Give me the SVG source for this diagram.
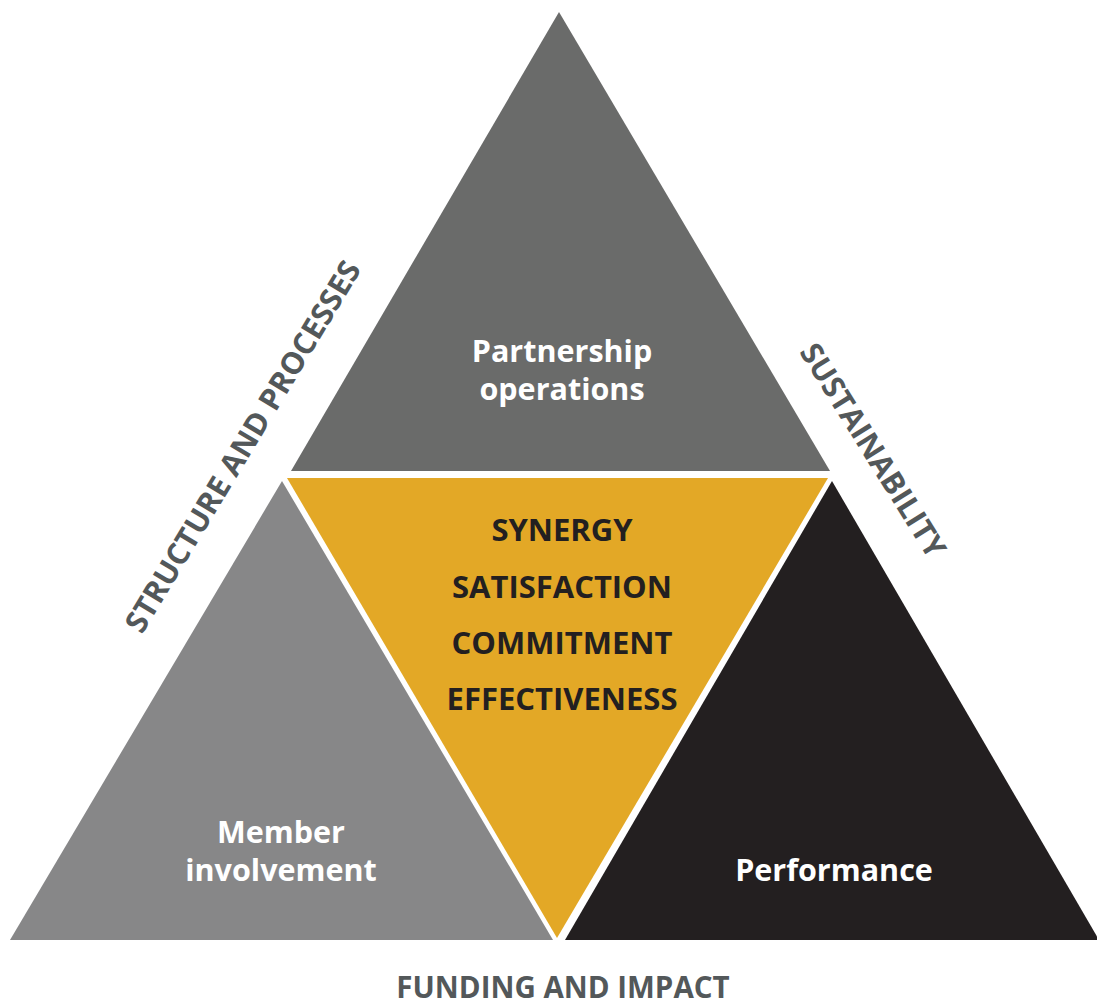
<svg xmlns="http://www.w3.org/2000/svg" width="1097" height="1005" viewBox="0 0 1097 1005">
<style>
.lbl{font-family:"Open Sans","Liberation Sans",sans-serif;font-weight:700;text-anchor:middle}
.w{fill:#ffffff;font-size:30.5px}
.c{fill:#231f20;font-size:31px}
.g{fill:#53585a;font-size:30.5px}
.b{font-size:29.5px}
</style>
<rect width="1097" height="1005" fill="#ffffff"/>
<g id="top">
<polygon points="559,12 291,471 830,471" fill="#6a6b6a"/>
<text class="lbl w" x="562" y="362">Partnership</text>
<text class="lbl w" x="562" y="400">operations</text>
</g>
<g id="left">
<polygon points="282,481 10,940 553,940" fill="#878788"/>
<text class="lbl w" x="281" y="843">Member</text>
<text class="lbl w" x="281" y="881">involvement</text>
</g>
<g id="right">
<polygon points="832,481 565,940 1099,940" fill="#231f20"/>
<text class="lbl w" x="834" y="881">Performance</text>
</g>
<g id="center">
<polygon points="287,478 828,478 557,938" fill="#e3a826"/>
<text class="lbl c" x="562" y="541">SYNERGY</text>
<text class="lbl c" x="562" y="598">SATISFACTION</text>
<text class="lbl c" x="562" y="654">COMMITMENT</text>
<text class="lbl c" x="562" y="710">EFFECTIVENESS</text>
</g>
<g id="side-labels">
<text class="lbl g" transform="translate(252,452) rotate(-59)">STRUCTURE AND PROCESSES</text>
<text class="lbl g" transform="translate(864,456) rotate(58)">SUSTAINABILITY</text>
<text class="lbl g b" x="563" y="998">FUNDING AND IMPACT</text>
</g>
</svg>
